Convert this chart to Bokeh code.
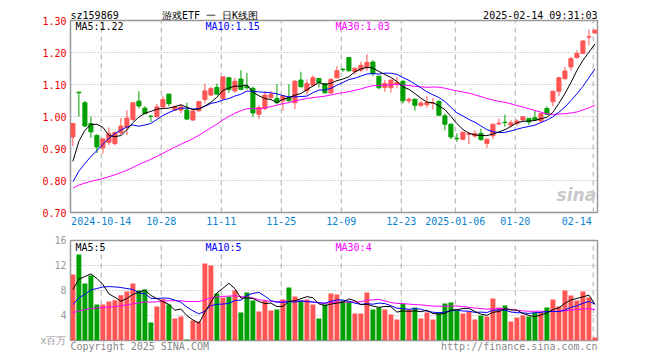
from bokeh.plotting import figure
from bokeh.models import (Range1d, FixedTicker, CustomJSTickFormatter, PrintfTickFormatter,
                          Label, ColumnDataSource, LinearAxis)
from bokeh.layouts import column
from bokeh.embed import file_html
from bokeh.resources import INLINE

# ---------------- data ----------------
open_ = [0.936, 1.076, 1.043, 0.978, 0.941, 0.902, 0.919, 0.916, 0.949, 0.966,
         0.991, 1.048, 1.026, 1.001, 0.999, 1.030, 1.070, 1.020, 1.020, 1.020,
         0.989, 1.018, 1.053, 1.067, 1.091, 1.056, 1.121, 1.080, 1.117, 1.094,
         1.088, 1.007, 1.025, 1.059, 1.056, 1.049, 1.059, 1.043, 1.114, 1.080,
         1.098, 1.119, 1.103, 1.074, 1.121, 1.148, 1.184, 1.140, 1.145, 1.152,
         1.170, 1.126, 1.091, 1.090, 1.100, 1.110, 1.049, 1.054, 1.035, 1.037,
         1.041, 1.047, 1.002, 0.976, 0.932, 0.929, 0.944, 0.939, 0.947, 0.916,
         0.940, 0.977, 0.982, 0.973, 0.978, 0.989, 0.994, 0.996, 0.986, 1.025,
         1.046, 1.079, 1.119, 1.155, 1.184, 1.197, 1.248, 1.261]
high = [0.978, 1.077, 1.048, 1.000, 0.944, 0.930, 0.966, 0.953, 0.995, 1.020,
        1.043, 1.079, 1.032, 1.004, 1.039, 1.065, 1.070, 1.035, 1.040, 1.043,
        1.020, 1.047, 1.103, 1.093, 1.103, 1.124, 1.124, 1.121, 1.145, 1.136,
        1.093, 1.035, 1.080, 1.080, 1.101, 1.067, 1.101, 1.114, 1.140, 1.116,
        1.129, 1.119, 1.105, 1.119, 1.157, 1.150, 1.186, 1.151, 1.171, 1.195,
        1.176, 1.126, 1.114, 1.114, 1.124, 1.114, 1.059, 1.056, 1.050, 1.064,
        1.058, 1.051, 1.009, 0.978, 0.947, 0.951, 0.952, 0.957, 0.962, 0.931,
        0.976, 0.994, 1.006, 0.989, 0.992, 0.999, 0.994, 1.018, 1.011, 1.032,
        1.079, 1.124, 1.155, 1.186, 1.207, 1.239, 1.272, 1.270]
low = [0.907, 1.000, 0.970, 0.933, 0.886, 0.884, 0.910, 0.909, 0.942, 0.942,
       0.986, 1.025, 1.007, 0.983, 0.997, 1.026, 1.033, 1.018, 1.010, 0.989,
       0.986, 1.015, 1.041, 1.064, 1.067, 1.051, 1.074, 1.074, 1.082, 1.085,
       0.999, 0.992, 1.020, 1.051, 1.039, 1.018, 1.046, 1.023, 1.091, 1.067,
       1.093, 1.091, 1.072, 1.070, 1.119, 1.140, 1.140, 1.131, 1.138, 1.143,
       1.126, 1.085, 1.077, 1.075, 1.088, 1.041, 1.041, 1.018, 1.030, 1.028,
       1.022, 1.004, 0.957, 0.929, 0.921, 0.926, 0.914, 0.934, 0.924, 0.902,
       0.929, 0.973, 0.968, 0.966, 0.970, 0.986, 0.973, 0.989, 0.983, 1.005,
       1.032, 1.064, 1.114, 1.143, 1.181, 1.195, 1.223, 1.259]
close = [0.978, 1.074, 0.970, 0.952, 0.905, 0.930, 0.947, 0.950, 0.970, 0.995,
         1.043, 1.033, 1.009, 1.000, 1.030, 1.053, 1.040, 1.030, 1.030, 0.992,
         1.017, 1.047, 1.080, 1.087, 1.070, 1.124, 1.084, 1.110, 1.085, 1.090,
         1.011, 1.028, 1.067, 1.069, 1.043, 1.064, 1.049, 1.110, 1.093, 1.103,
         1.121, 1.106, 1.074, 1.116, 1.143, 1.146, 1.143, 1.151, 1.160, 1.169,
         1.134, 1.090, 1.103, 1.114, 1.106, 1.049, 1.054, 1.035, 1.042, 1.044,
         1.042, 1.004, 0.976, 0.936, 0.931, 0.951, 0.946, 0.947, 0.928, 0.929,
         0.976, 0.979, 0.981, 0.980, 0.986, 0.999, 0.983, 0.989, 1.009, 1.007,
         1.079, 1.121, 1.142, 1.181, 1.197, 1.236, 1.249, 1.270]
volume = [10.56, 13.76, 9.12, 10.4, 5.76, 5.76, 6.24, 6.45, 7.25, 7.84,
          9.12, 8.0, 8.16, 2.88, 5.44, 6.61, 5.76, 3.52, 3.84, 0.15,
          3.2, 3.04, 12.32, 12.0, 7.52, 6.88, 7.04, 8.0, 4.48, 7.68,
          6.4, 4.64, 6.4, 4.8, 4.96, 6.56, 8.48, 7.04, 6.4, 6.56,
          5.76, 3.52, 5.76, 7.52, 7.36, 6.4, 6.24, 4.32, 4.32, 7.68,
          4.96, 5.28, 4.96, 4.16, 3.36, 5.92, 4.96, 5.28, 3.52, 4.48,
          3.36, 4.48, 5.92, 6.08, 4.8, 4.32, 4.64, 3.36, 4.0, 3.84,
          6.72, 5.28, 5.6, 3.04, 3.68, 4.0, 3.84, 4.48, 4.48, 5.28,
          6.56, 5.44, 8.0, 7.2, 6.4, 7.84, 6.88, 0.48]
# sessions before the visible window (only feed the moving averages)
pre_close = [0.795, 0.790, 0.788, 0.782, 0.785, 0.778, 0.772, 0.770, 0.775, 0.768,
             0.762, 0.765, 0.758, 0.755, 0.760, 0.752, 0.748, 0.750, 0.745, 0.742,
             0.738, 0.735, 0.728, 0.725, 0.731, 0.760, 0.800, 0.862, 0.900]
pre_volume = [4.2, 3.9, 4.0, 3.6, 3.8, 4.1, 3.7, 3.5, 3.9, 3.6,
              3.8, 3.4, 3.7, 3.9, 3.6, 3.5, 3.8, 3.7, 3.9, 3.6,
              3.2, 3.5, 3.3, 3.4, 3.4, 5.6, 6.9, 8.3, 9.44]

date_tick_index = [5, 15, 25, 35, 45, 55, 64, 74, 87]
date_tick_labels = ["2024-10-14", "10-28", "11-11", "11-25", "12-09", "12-23",
                    "2025-01-06", "01-20", "02-14"]
price_ticks = [0.70, 0.80, 0.90, 1.00, 1.10, 1.20, 1.30]
volume_ticks = [0, 4, 8, 12, 16]
volume_unit_label = "x百万"

header_texts = ["sz159869", "游戏ETF 一 日K线图", "2025-02-14 09:31:03"]
header_pos = [3.62, 22.85, 77.9]          # label centres (x units)
footer_texts = ["Copyright 2025 SINA.COM", "http://finance.sina.com.cn"]
footer_pos = [11.14, 74.4]

# ---------------- derived ----------------
RED = "#ff5555"
GREEN = "#00a000"
GRID = "#aaaaaa"
MONO = "DejaVu Sans Mono"
n = len(close)
xs = list(range(n))
X0, X1 = -0.4, 87.43


def moving_average(pre, series, w):
    full = pre + series
    p = len(pre)
    return [sum(full[p + i - w + 1:p + i + 1]) / w for i in range(len(series))]


colors = [RED if c >= o else GREEN for o, c in zip(open_, close)]
src = ColumnDataSource(dict(
    x=xs, open=open_, close=close, high=high, low=low, vol=volume, color=colors,
    top=[max(o, c) for o, c in zip(open_, close)],
    bottom=[min(o, c) for o, c in zip(open_, close)],
    ma5=moving_average(pre_close, close, 5),
    ma10=moving_average(pre_close, close, 10),
    ma30=moving_average(pre_close, close, 30),
    vma5=moving_average(pre_volume, volume, 5),
    vma10=moving_average(pre_volume, volume, 10),
    vma30=moving_average(pre_volume, volume, 30),
))

grid_x = [t - 0.28 for t in date_tick_index]
# label centres: gridline positions, last one pulled inside the frame
label_x = grid_x[:-1] + [83.98]
x_range = Range1d(X0, X1)


def label_formatter(pos, names):
    return CustomJSTickFormatter(args=dict(pos=pos, names=names), code="""
        for (let k = 0; k < pos.length; k++) {
            if (Math.abs(pos[k] - tick) < 1e-6) return names[k];
        }
        return "";""")


def style(p):
    p.background_fill_color = "white"
    p.border_fill_color = "white"
    p.outline_line_color = "#999999"
    p.outline_line_width = 1.5
    p.xgrid.grid_line_color = None
    p.ygrid.grid_line_color = None
    for ax in p.axis:
        ax.axis_line_color = None
        ax.major_tick_line_color = None
        ax.minor_tick_line_color = None
        ax.major_tick_in = 0
        ax.major_tick_out = 0
        ax.minor_tick_in = 0
        ax.minor_tick_out = 0
        ax.major_label_text_font = MONO
        ax.major_label_text_font_size = "10px"


def grids(p, y_lo, y_hi, h_lines):
    p.segment(x0=grid_x, x1=grid_x, y0=[y_lo] * len(grid_x), y1=[y_hi] * len(grid_x),
              line_color=GRID, line_width=1, line_dash="5 4")
    p.segment(x0=[X0] * len(h_lines), x1=[X1] * len(h_lines), y0=h_lines, y1=h_lines,
              line_color=GRID, line_width=1, line_dash="1 2")


# ---------------- price panel ----------------
p1 = figure(width=660, height=232, x_range=x_range, y_range=Range1d(0.70, 1.30),
            output_backend="svg", toolbar_location=None,
            min_border_left=70, min_border_right=63, min_border_top=20, min_border_bottom=20)
p1.add_layout(LinearAxis(ticker=FixedTicker(ticks=header_pos),
                         formatter=label_formatter(header_pos, header_texts),
                         major_label_standoff=0, major_label_text_color="black"), "above")
style(p1)
p1.yaxis.ticker = FixedTicker(ticks=price_ticks)
p1.yaxis.formatter = PrintfTickFormatter(format="%.2f")
p1.yaxis.major_label_text_color = "#ee0000"
p1.yaxis.major_label_standoff = 4
p1.below[0].ticker = FixedTicker(ticks=label_x)
p1.below[0].formatter = label_formatter(label_x, date_tick_labels)
p1.below[0].major_label_text_color = "#0a84d0"
p1.below[0].major_label_standoff = 4

grids(p1, 0.70, 1.30, price_ticks[1:-1])
p1.segment(x0="x", x1="x", y0="low", y1="high", color="color", line_width=1, source=src)
p1.vbar(x="x", width=0.68, top="top", bottom="bottom", fill_color="color",
        line_color="color", line_width=1, source=src)
p1.line("x", "ma30", color="#ff00ff", line_width=1, source=src)
p1.line("x", "ma10", color="#0000ff", line_width=1, source=src)
p1.line("x", "ma5", color="black", line_width=1, source=src)


def lab(p, x, y, text, color="black", align="left", font=MONO, size="10px",
        style="normal", baseline="middle"):
    p.add_layout(Label(x=x, y=y, text=text, text_color=color, text_align=align,
                       text_baseline=baseline, text_font=font, text_font_size=size,
                       text_font_style=style))


lab(p1, 0.43, 1.282, "MA5:1.22")
lab(p1, 22.1, 1.282, "MA10:1.15", color="#0000ff")
lab(p1, 43.77, 1.282, "MA30:1.03", color="#ff00ff")
lab(p1, 87.2, 0.7228, "sina", color="#c8c8c8", align="right", font="DejaVu Sans",
    size="17px", style="bold italic", baseline="bottom")

# ---------------- volume panel ----------------
p2 = figure(width=660, height=128, x_range=x_range, y_range=Range1d(0, 16),
            output_backend="svg", toolbar_location=None,
            min_border_left=70, min_border_right=63, min_border_top=8, min_border_bottom=20)
style(p2)
p2.yaxis.ticker = FixedTicker(ticks=volume_ticks)
p2.yaxis.major_label_overrides = {0: volume_unit_label}
p2.yaxis.major_label_text_color = "#999999"
p2.yaxis.major_label_standoff = 4
p2.below[0].ticker = FixedTicker(ticks=footer_pos)
p2.below[0].formatter = label_formatter(footer_pos, footer_texts)
p2.below[0].major_label_text_color = "#888888"
p2.below[0].major_label_standoff = 0

grids(p2, 0, 16, volume_ticks[1:-1])
p2.vbar(x="x", width=0.82, top="vol", bottom=0, fill_color="color", line_color=None, source=src)
p2.line("x", "vma30", color="#ff00ff", line_width=1, source=src)
p2.line("x", "vma10", color="#0000ff", line_width=1, source=src)
p2.line("x", "vma5", color="black", line_width=1, source=src)

lab(p2, 0.43, 14.96, "MA5:5")
lab(p2, 22.1, 14.96, "MA10:5", color="#0000ff")
lab(p2, 43.77, 14.96, "MA30:4", color="#ff00ff")

layout = column(p1, p2, spacing=0)
open("out.html", "w").write(file_html(layout, INLINE))
